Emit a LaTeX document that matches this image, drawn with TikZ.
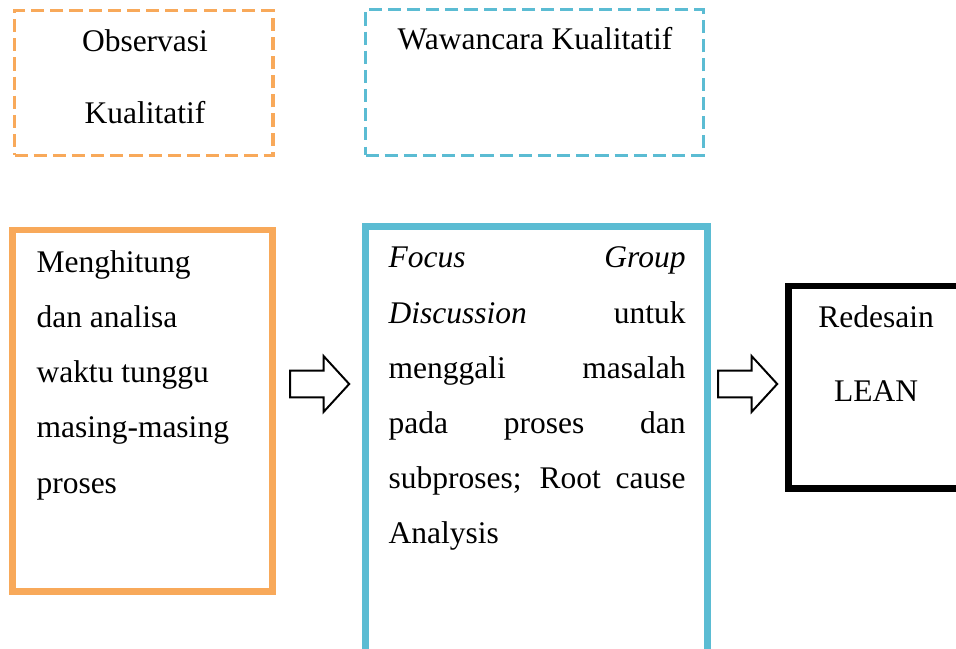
\documentclass[tikz,border=0pt]{standalone}
\usepackage{fontspec}
\setmainfont{Liberation Serif}
\usetikzlibrary{shapes.arrows,positioning}
\definecolor{boxorange}{RGB}{248,169,90}
\definecolor{boxblue}{RGB}{91,188,211}
\def\px{0.381pt}

\begin{document}
\begin{tikzpicture}[
  x=0.381pt, y=-0.381pt,
  dashbox/.style={draw, line width=1.15pt, dash pattern=on 5pt off 2.3pt,
    anchor=north west, inner sep=0pt, outer sep=0pt},
  framebox/.style={draw, line width=2.5pt, anchor=north west, inner sep=0pt, outer sep=0pt},
  txt/.style={inner sep=0pt, font=\fontsize{12}{20.96}\selectfont},
  blockarrow/.style={draw, line width=0.75pt, single arrow,
    single arrow head extend=5.5pt, single arrow tip angle=95,
    minimum height=22.5pt, inner xsep=0pt, inner ysep=4.75pt}
]
\clip (0,0) rectangle (956,649);
% qualitative boxes on top
\node[dashbox, draw=boxorange, minimum width=258.5*\px, minimum height=145*\px] (obs) at (14.5,10.5) {};
\node[dashbox, draw=boxblue, minimum width=337.5*\px, minimum height=146*\px] (waw) at (365.5,9.5) {};
\node[txt, align=center, anchor=base, font=\fontsize{12}{27.43}\selectfont] (obstxt) at (145,124) {Observasi\\Kualitatif};
\node[txt, anchor=base] (wawtxt) at (535,50) {Wawancara Kualitatif};
% main steps
\node[framebox, draw=boxorange, minimum width=260*\px, minimum height=361.5*\px] (meas) at (12.7,230) {};
\node[framebox, draw=boxblue, minimum width=342*\px, minimum height=440*\px] (fgd) at (365.5,226.5) {};
\node[framebox, draw=black, minimum width=200*\px, minimum height=202.5*\px] (lean) at (788.5,286) {};
\node[txt, align=left, anchor=base west] (meastxt) at (36,493)
  {Menghitung\\dan analisa\\waktu tunggu\\masing-masing\\proses};
\node[txt, text width=297*\px, align=justify, anchor=base west] (fgdtxt) at (388,268)
  {\textit{Focus Group}\linebreak \textit{Discussion} untuk\linebreak menggali masalah\linebreak
   pada proses dan\linebreak subproses; Root cause\linebreak Analysis};
\node[txt, align=center, anchor=base, font=\fontsize{12}{28.2}\selectfont] (leantxt) at (876,402) {Redesain\\LEAN};
% block arrows
\node[blockarrow] (arr1) at (313.5,384) {};
\node[blockarrow] (arr2) at (741.5,384) {};
\end{tikzpicture}
\end{document}
